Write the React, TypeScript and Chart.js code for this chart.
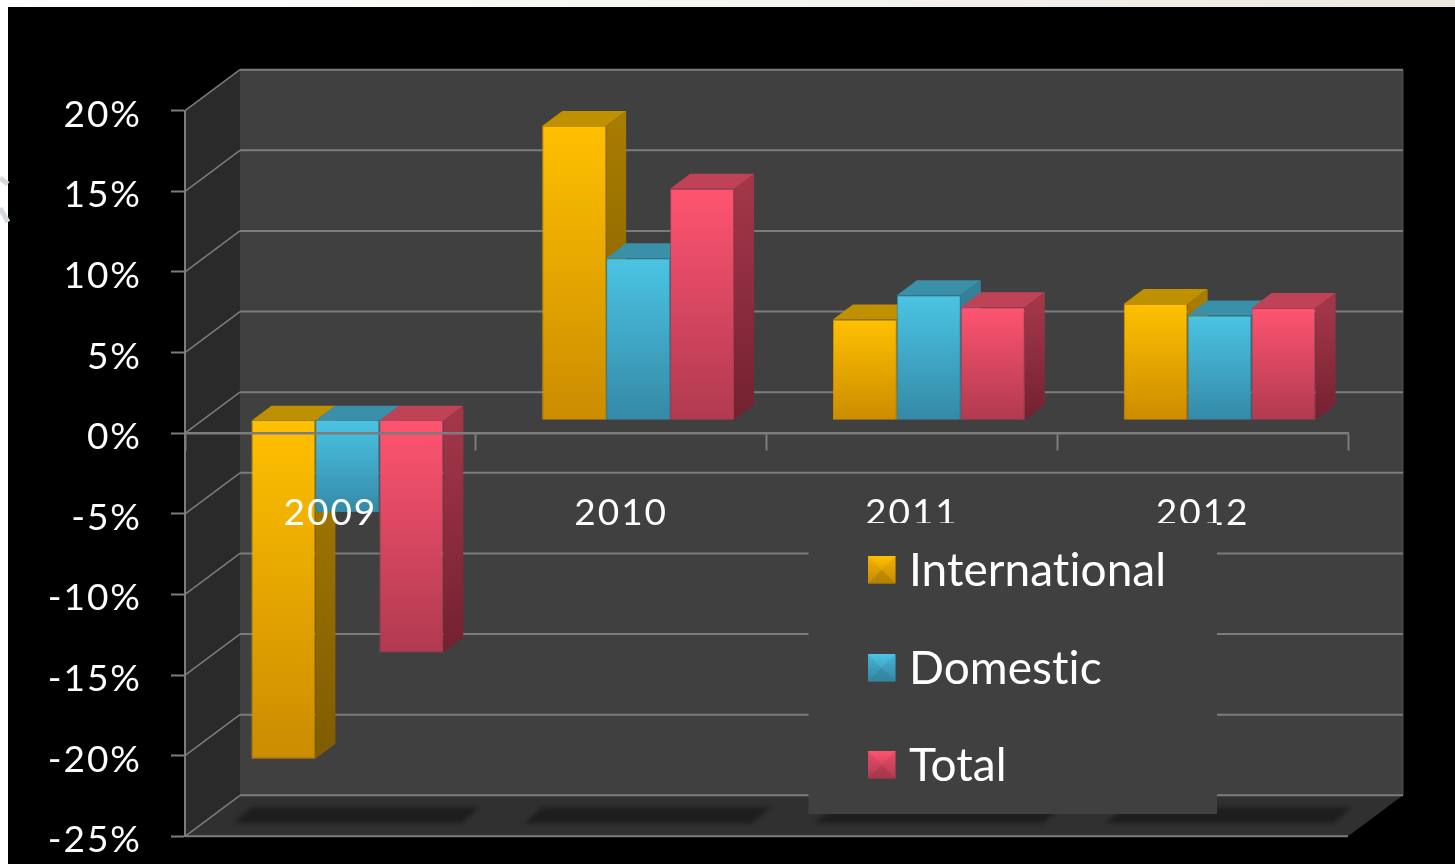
import React, { useEffect, useRef } from "react";
import { Chart, registerables } from "chart.js";

Chart.register(...registerables);

const categories = ["2009", "2010", "2011", "2012"];
const international = [-21.0, 18.25, 6.25, 7.2];
const domestic = [-5.7, 10.05, 7.75, 6.5];
const total = [-14.4, 14.35, 7.0, 6.95];
const seriesNames = ["International", "Domestic", "Total"];

const FONT = "Lato";
const WALL_DX = 55;
const WALL_DY = -41;
const BAR_DX = 17;
const BAR_DY = -13;
const DEPTH_DX = 20;
const DEPTH_DY = -15;
const LINE = "#7c7c7c";

const palettes = [
  { top: "#ffc000", bottom: "#cb8c00", cap: "#bf9000", sideTop: "#a87c00", sideBottom: "#7f5c00" },
  { top: "#4bc4e4", bottom: "#3489a6", cap: "#3a8fa9", sideTop: "#358198", sideBottom: "#256073" },
  { top: "#ff5470", bottom: "#b03a50", cap: "#bf4257", sideTop: "#a23649", sideBottom: "#73212f" },
];

function poly(ctx: CanvasRenderingContext2D, pts: number[][], fill: any) {
  ctx.beginPath();
  pts.forEach((p, i) => (i ? ctx.lineTo(p[0], p[1]) : ctx.moveTo(p[0], p[1])));
  ctx.closePath();
  ctx.fillStyle = fill;
  ctx.fill();
}

const scenePlugin = {
  id: "scene",
  beforeDraw(chart: any) {
    const { ctx, chartArea: a, scales } = chart;
    const { left: l, right: r, top: t, bottom: b } = a;
    (ctx as any).letterSpacing = "2px";
    ctx.save();
    const w = chart.width;
    const strip = ctx.createLinearGradient(0, 0, w, 0);
    strip.addColorStop(0, "#ffffff");
    strip.addColorStop(0.4, "#f8f7f3");
    strip.addColorStop(1, "#ece9de");
    ctx.fillStyle = strip;
    ctx.fillRect(0, 0, w, chart.height);
    ctx.fillStyle = "#000000";
    ctx.fillRect(8, 7, w - 8, chart.height - 7);
    ctx.strokeStyle = "#d6dade";
    ctx.lineWidth = 5;
    ctx.beginPath();
    ctx.moveTo(0, 178);
    ctx.lineTo(8, 184);
    ctx.moveTo(0, 208);
    ctx.lineTo(8, 222);
    ctx.stroke();

    // back wall, side wall, floor
    poly(ctx, [[l + WALL_DX, t + WALL_DY], [r + WALL_DX, t + WALL_DY], [r + WALL_DX, b + WALL_DY], [l + WALL_DX, b + WALL_DY]], "#404040");
    poly(ctx, [[l, t], [l + WALL_DX, t + WALL_DY], [l + WALL_DX, b + WALL_DY], [l, b]], "#2a2a2a");
    poly(ctx, [[l, b], [l + WALL_DX, b + WALL_DY], [r + WALL_DX, b + WALL_DY], [r, b]], "#303030");

    // shadows on the floor, one under each category
    ctx.save();
    ctx.filter = "blur(2px)";
    categories.forEach((_, i) => {
      const c = scales.x.getPixelForValue(i) + 25;
      poly(ctx, [[c - 122, b - 13], [c - 104, b - 29], [c + 124, b - 29], [c + 106, b - 13]], "#1e1e1e");
    });
    ctx.restore();

    // right edge of the wall
    ctx.strokeStyle = "#4e4e4e";
    ctx.lineWidth = 1;
    ctx.beginPath();
    ctx.moveTo(r + WALL_DX, t + WALL_DY);
    ctx.lineTo(r + WALL_DX, b + WALL_DY);
    ctx.stroke();

    // grid on the walls, from the value scale
    ctx.strokeStyle = LINE;
    scales.y.ticks.forEach((tick: any) => {
      const y = scales.y.getPixelForValue(tick.value);
      ctx.lineWidth = 2;
      ctx.beginPath();
      ctx.moveTo(l + WALL_DX, y + WALL_DY);
      ctx.lineTo(r + WALL_DX, y + WALL_DY);
      ctx.stroke();
      ctx.lineWidth = 1.5;
      ctx.beginPath();
      ctx.moveTo(l, y);
      ctx.lineTo(l + WALL_DX, y + WALL_DY);
      ctx.stroke();
    });
    // floor front edge and the upright of the value axis
    ctx.lineWidth = 2;
    ctx.beginPath();
    ctx.moveTo(l, b);
    ctx.lineTo(r, b);
    ctx.moveTo(l, t);
    ctx.lineTo(l, b);
    ctx.stroke();
    ctx.restore();
  },
  beforeDatasetsDraw(chart: any) {
    const { ctx } = chart;
    ctx.save();
    ctx.translate(BAR_DX, BAR_DY);
    chart.data.datasets.forEach((_: any, di: number) => {
      const meta = chart.getDatasetMeta(di);
      const pal = palettes[di];
      meta.data.forEach((bar: any) => {
        const p = bar.getProps(["x", "y", "base", "width"], true);
        const x2 = p.x + p.width / 2;
        const x1 = p.x - p.width / 2;
        const top = Math.min(p.y, p.base);
        const bot = Math.max(p.y, p.base);
        const g = ctx.createLinearGradient(0, top, 0, bot);
        g.addColorStop(0, pal.sideTop);
        g.addColorStop(1, pal.sideBottom);
        poly(ctx, [[x2, top], [x2 + DEPTH_DX, top + DEPTH_DY], [x2 + DEPTH_DX, bot + DEPTH_DY], [x2, bot]], g);
        poly(ctx, [[x1, top], [x1 + DEPTH_DX, top + DEPTH_DY], [x2 + DEPTH_DX, top + DEPTH_DY], [x2, top]], pal.cap);
      });
      meta.controller.draw();
    });
    ctx.restore();
    return false;
  },
  afterDraw(chart: any) {
    const { ctx } = chart;
    ctx.save();
    ctx.fillStyle = "#404040";
    ctx.fillRect(808.5, 523, 408.5, 291);
    const rows = [570, 668, 765];
    chart.data.datasets.forEach((ds: any, i: number) => {
      const pal = palettes[i];
      const x = 868;
      const y = rows[i] - 14;
      const s = 27.5;
      const c = [x + s / 2, y + s / 2];
      const g = ctx.createLinearGradient(0, y, 0, y + s);
      g.addColorStop(0, pal.top);
      g.addColorStop(1, pal.bottom);
      poly(ctx, [[x, y], [x + s, y], [x + s, y + s], [x, y + s]], g);
      ctx.globalAlpha = 0.6;
      poly(ctx, [[x, y + s], [c[0], c[1]], [x + s, y + s]], pal.sideTop);
      ctx.globalAlpha = 0.25;
      poly(ctx, [[x, y], [c[0], c[1]], [x, y + s]], pal.bottom);
      poly(ctx, [[x + s, y], [c[0], c[1]], [x + s, y + s]], pal.bottom);
      ctx.globalAlpha = 1;
      ctx.fillStyle = "#ffffff";
      (ctx as any).letterSpacing = "0.05px";
      ctx.font = `46px ${FONT}`;
      ctx.textAlign = "left";
      ctx.textBaseline = "middle";
      ctx.fillText(ds.label, 909, rows[i] + 1);
    });
    ctx.restore();
  },
};

function barGradient(di: number) {
  return (c: any) => {
    const { chart, raw } = c;
    const y = chart.scales?.y;
    if (!y || raw === undefined) return palettes[di].top;
    const a = y.getPixelForValue(raw);
    const b = y.getPixelForValue(0);
    if (!Number.isFinite(a) || !Number.isFinite(b)) return palettes[di].top;
    const g = chart.ctx.createLinearGradient(0, Math.min(a, b), 0, Math.max(a, b));
    g.addColorStop(0, palettes[di].top);
    g.addColorStop(1, palettes[di].bottom);
    return g;
  };
}

export default function App() {
  const ref = useRef<HTMLCanvasElement>(null);
  useEffect(() => {
    document.body.style.margin = "0";
    document.body.style.overflow = "hidden";
    const series = [international, domestic, total];
    const chart = new Chart(ref.current as HTMLCanvasElement, {
      type: "bar",
      data: {
        labels: categories,
        datasets: series.map((data, i) => ({
          label: seriesNames[i],
          data,
          backgroundColor: barGradient(i),
          borderColor: palettes[i].bottom,
          borderWidth: 1,
          barPercentage: 1,
          categoryPercentage: 0.66,
        })),
      },
      options: {
        animation: false,
        responsive: false,
        devicePixelRatio: 1,
        layout: { padding: { left: 0, top: 110.7, right: 107, bottom: 27.7 } },
        plugins: { legend: { display: false }, tooltip: { enabled: false }, title: { display: false } },
        scales: {
          x: {
            axis: "x",
            position: { y: 0 },
            offset: true,
            afterFit: (s: any) => {
              s.height = 0;
              s.paddingTop = 0;
              s.paddingBottom = 0;
              s.paddingLeft = 0;
              s.paddingRight = 0;
            },
            grid: { offset: true, drawOnChartArea: false, drawTicks: true, tickLength: 16, tickWidth: 2, color: LINE },
            border: { display: true, color: LINE, width: 2.5, z: 1 },
            ticks: {
              autoSkip: false,
              maxRotation: 0,
              padding: 42,
              color: "#ffffff",
              z: 1,
              font: { family: FONT, size: 37 },
            },
          },
          y: {
            min: -25,
            max: 20,
            afterFit: (s: any) => {
              s.width = 185;
              s.paddingTop = 0;
              s.paddingBottom = 0;
            },
            grid: { drawOnChartArea: false, drawTicks: true, tickLength: 14, tickWidth: 2, color: LINE },
            border: { display: true, color: LINE, width: 2 },
            ticks: {
              stepSize: 5,
              padding: 29,
              labelOffset: 4,
              color: "#ffffff",
              font: { family: FONT, size: 37 },
              callback: (v: any) => `${v}%`,
            },
          },
        },
      } as any,
      plugins: [scenePlugin as any],
    });
    return () => chart.destroy();
  }, []);
  return <canvas ref={ref} width={1455} height={864} style={{ display: "block" }} />;
}
